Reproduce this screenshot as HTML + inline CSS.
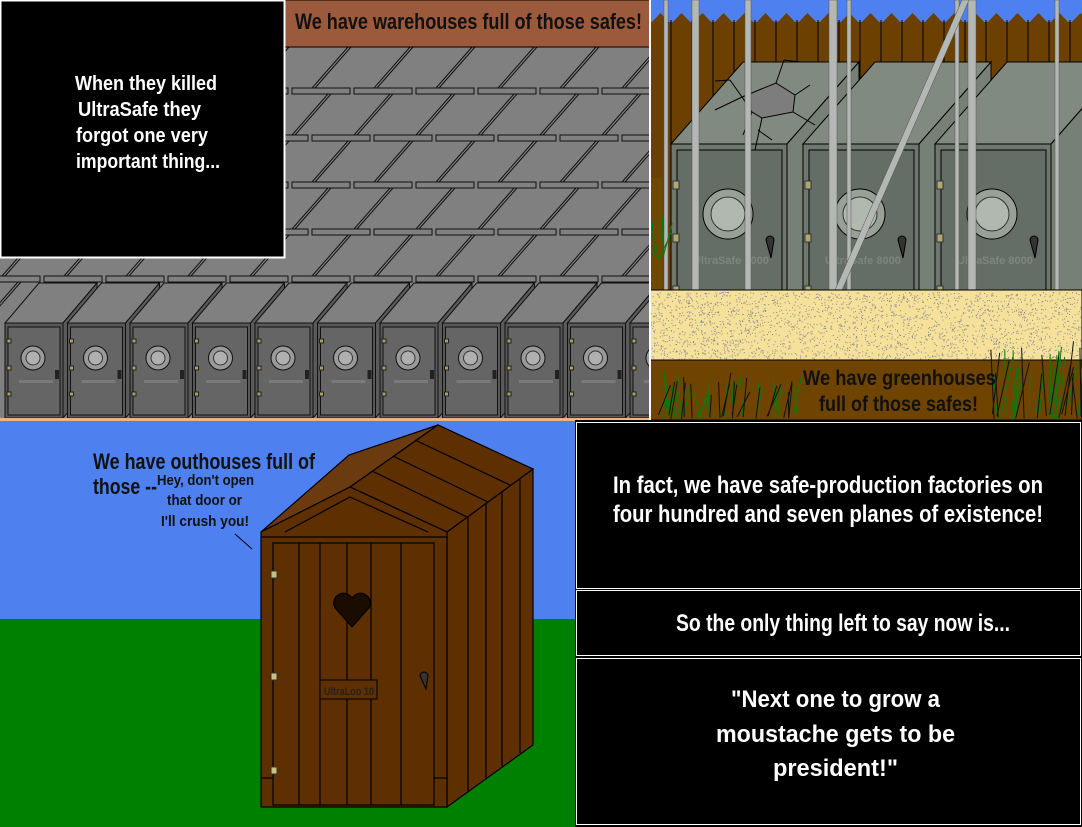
<!DOCTYPE html>
<html><head><meta charset="utf-8"><style>
html,body{margin:0;padding:0;background:#000;}
svg{display:block;}
text{font-family:"Liberation Sans Narrow","Liberation Sans",sans-serif;font-weight:bold;}
</style></head><body>
<svg id="s" width="1082" height="827" viewBox="0 0 1082 827" xmlns="http://www.w3.org/2000/svg">
<defs>
<clipPath id="c1"><rect x="0" y="0" width="650" height="420"/></clipPath>
<clipPath id="c2"><rect x="650" y="0" width="432" height="420"/></clipPath>
<clipPath id="c3"><rect x="0" y="421" width="575" height="406"/></clipPath>
</defs>
<rect width="1082" height="827" fill="#000"/>
<!-- PANEL 1 -->
<g clip-path="url(#c1)">
<rect x="0" y="0" width="650" height="420" fill="#808080"/>
<g id="p1rows"></g>
<g id="p1safes"></g>
<rect x="285" y="0" width="365" height="47" fill="#9c5a3c" stroke="#000" stroke-width="1"/>
<text x="295" y="29" font-size="22" fill="#111" textLength="347" lengthAdjust="spacingAndGlyphs">We have warehouses full of those safes!</text>
<rect x="0.5" y="0.5" width="284" height="257" fill="#000" stroke="#fff" stroke-width="2"/>
<g fill="#fff" font-size="20">
<text x="75" y="90" textLength="142" lengthAdjust="spacingAndGlyphs">When they killed</text>
<text x="78" y="116" textLength="123" lengthAdjust="spacingAndGlyphs">UltraSafe they</text>
<text x="76" y="142" textLength="132" lengthAdjust="spacingAndGlyphs">forgot one very</text>
<text x="76" y="168" textLength="144" lengthAdjust="spacingAndGlyphs">important thing...</text>
</g>
<rect x="0" y="418" width="650" height="2" fill="#f0b080"/>
</g>
<!-- PANEL 2 -->
<g clip-path="url(#c2)">
<rect x="650" y="0" width="432" height="420" fill="#4f80f0"/>
<g id="fence"></g>
<rect x="650" y="178" width="12" height="112" fill="#6e4a00"/>
<g id="p2safes"></g>
<g id="poles"></g>
<rect x="650" y="290" width="432" height="70" fill="#f5e19a" stroke="#000"/>
<g id="speck"></g>
<rect x="650" y="360" width="432" height="60" fill="#6e4400" stroke="#000"/>
<g id="grass" stroke-width="1" fill="none"></g>
<g fill="#111" font-size="21">
<text x="803" y="385" textLength="193" lengthAdjust="spacingAndGlyphs">We have greenhouses</text>
<text x="819" y="411" textLength="159" lengthAdjust="spacingAndGlyphs">full of those safes!</text>
</g>
</g>
<rect x="649" y="0" width="2" height="420" fill="#fff"/>
<!-- PANEL 3 -->
<g clip-path="url(#c3)">
<rect x="0" y="421" width="575" height="198" fill="#4f80f0"/>
<rect x="0" y="619" width="575" height="208" fill="#008000"/>
<g stroke="#000" stroke-width="1.2">
<polygon points="447,532 533,469 533,745 447,807" fill="#5e2f00"/>
<line x1="468" y1="517" x2="468" y2="791"/>
<line x1="486" y1="504" x2="486" y2="778"/>
<line x1="502" y1="492" x2="502" y2="766"/>
<line x1="520" y1="479" x2="520" y2="753"/>
<polygon points="261,532 350,487 438,425 349,455" fill="#6b3a0e"/>
<polygon points="350,487 438,425 533,469 447,532" fill="#5e2f00"/>
<line x1="372" y1="471" x2="467" y2="517"/>
<line x1="393" y1="456" x2="488" y2="502"/>
<line x1="415" y1="440" x2="510" y2="485"/>
<polygon points="261,532 350,487 447,532 447,807 261,807" fill="#5e2f00"/>
<polyline points="285,532 350,497 428,532" fill="none"/>
<line x1="261" y1="537" x2="447" y2="537"/>
<rect x="273" y="543" width="161" height="262" fill="#5e2f00"/>
<line x1="299" y1="543" x2="299" y2="805"/>
<line x1="320" y1="543" x2="320" y2="805"/>
<line x1="347" y1="543" x2="347" y2="805"/>
<line x1="371" y1="543" x2="371" y2="805"/>
<line x1="401" y1="543" x2="401" y2="805"/>
<line x1="261" y1="778" x2="273" y2="778"/>
<line x1="434" y1="778" x2="447" y2="778"/>
</g>
<path d="M352,627 L335,608 A9,9 0 0 1 352,598 A9,9 0 0 1 369,608 Z" fill="#1a0c00" stroke="#000"/>
<rect x="320" y="680" width="57" height="19" fill="#5e2f00" stroke="#000"/>
<text x="324" y="695" font-size="11" fill="#222" textLength="50" lengthAdjust="spacingAndGlyphs">UltraLoo 10</text>
<path d="M420,676 a4,4 0 0 1 8,0 l-2,13 z" fill="#333" stroke="#000"/>
<g fill="#c8c080" stroke="#333"><rect x="271" y="571" width="6" height="7"/><rect x="271" y="673" width="6" height="7"/><rect x="271" y="767" width="6" height="7"/></g>
<g fill="#111" font-size="22">
<text x="93" y="469" textLength="222" lengthAdjust="spacingAndGlyphs">We have outhouses full of</text>
<text x="93" y="494" textLength="64" lengthAdjust="spacingAndGlyphs">those --</text>
</g>
<g fill="#111" font-size="15">
<text x="157" y="485" textLength="97" lengthAdjust="spacingAndGlyphs">Hey, don't open</text>
<text x="167" y="505" textLength="75" lengthAdjust="spacingAndGlyphs">that door or</text>
<text x="161" y="526" textLength="88" lengthAdjust="spacingAndGlyphs">I'll crush you!</text>
</g>
<line x1="235" y1="534" x2="252" y2="549" stroke="#000"/>
</g>
<rect x="0" y="420" width="575" height="1" fill="#f0b080"/>
<!-- PANEL 4 -->
<g fill="#000" stroke="#fff" stroke-width="1">
<rect x="576.5" y="422.5" width="504" height="166"/>
<rect x="576.5" y="590.5" width="504" height="65"/>
<rect x="576.5" y="658.5" width="504" height="166"/>
</g>
<g fill="#fff" font-size="24">
<text x="613" y="493" textLength="430" lengthAdjust="spacingAndGlyphs">In fact, we have safe-production factories on</text>
<text x="613" y="522" textLength="430" lengthAdjust="spacingAndGlyphs">four hundred and seven planes of existence!</text>
<text x="676" y="631" textLength="334" lengthAdjust="spacingAndGlyphs">So the only thing left to say now is...</text>
<text x="731" y="707" textLength="209" lengthAdjust="spacingAndGlyphs">"Next one to grow a</text>
<text x="716" y="742" textLength="239" lengthAdjust="spacingAndGlyphs">moustache gets to be</text>
<text x="773" y="776" textLength="125" lengthAdjust="spacingAndGlyphs">president!"</text>
</g>
</svg>
<script>
var NS="http://www.w3.org/2000/svg";
function el(p,t,a){var e=document.createElementNS(NS,t);for(var k in a)e.setAttribute(k,a[k]);document.getElementById(p).appendChild(e);return e;}
var rows=[47,94,141,188,235,282];
rows.forEach(function(yb,r){
  var off=(r%2)*-20;
  for(var x=-60+off;x<700;x+=62){
    el("p1rows","rect",{x:x,y:yb-6,width:58,height:6,fill:"#808080",stroke:"#111","stroke-width":1});
    el("p1rows","line",{x1:x,y1:yb+41,x2:x+36,y2:yb,stroke:"#111","stroke-width":1});
    el("p1rows","line",{x1:x+3,y1:yb+41,x2:x+39,y2:yb,stroke:"#111","stroke-width":1});
  }
});
for(var i=0;i<11;i++){
  var x=5+62.5*i;
  el("p1safes","polygon",{points:(x)+",323 "+(x+58)+",323 "+(x+92)+",283 "+(x+34)+",283",fill:"#808080",stroke:"#111"});
  el("p1safes","polygon",{points:(x+58)+",323 "+(x+92)+",283 "+(x+92)+",380 "+(x+58)+",418",fill:"#5a5a5a",stroke:"#111"});
  el("p1safes","rect",{x:x,y:323,width:58,height:95,fill:"#585858",stroke:"#111"});
  el("p1safes","rect",{x:x+3,y:327,width:52,height:88,fill:"#656565",stroke:"#111"});
  el("p1safes","circle",{cx:x+28,cy:358,r:12,fill:"#9a9a9a",stroke:"#111"});
  el("p1safes","circle",{cx:x+28,cy:358,r:7,fill:"#b0b0b0",stroke:"#333"});
  el("p1safes","rect",{x:x+50,y:370,width:4,height:9,fill:"#222"});
  [341,368,394].forEach(function(y){el("p1safes","rect",{x:x+2,y:y-2,width:4,height:4,fill:"#aaa060",stroke:"#222"});});
  el("p1safes","rect",{x:x+14,y:380,width:34,height:3,fill:"#7a7a7a"});
}
el("fence","rect",{x:650,y:22,width:432,height:270,fill:"#6b4000"});
for(var x=650;x<1082;x+=21){
  el("fence","polygon",{points:x+",24 "+(x+10.5)+",13 "+(x+21)+",24",fill:"#6b4000"});
  el("fence","line",{x1:x,y1:20,x2:x,y2:290,stroke:"#000","stroke-width":1});
}
[671,803,935].forEach(function(x,i){
  el("p2safes","polygon",{points:x+",144 "+(x+116)+",144 "+(x+188)+",62 "+(x+72)+",62",fill:"#808a80",stroke:"#000"});
  el("p2safes","polygon",{points:(x+116)+",144 "+(x+188)+",62 "+(x+188)+",290 "+(x+116)+",290",fill:"#768076",stroke:"#000"});
  el("p2safes","rect",{x:x,y:144,width:116,height:146,fill:"#6e786f",stroke:"#000"});
  el("p2safes","rect",{x:x+6,y:150,width:105,height:140,fill:"#646e66",stroke:"#000"});
  el("p2safes","circle",{cx:x+57,cy:214,r:25,fill:"#98a098",stroke:"#000"});
  el("p2safes","circle",{cx:x+57,cy:214,r:17,fill:"#b0b8b0",stroke:"#333"});
  el("p2safes","path",{d:"M"+(x+95)+",240 a4,4 0 0 1 8,0 l-3,18 z",fill:"#333",stroke:"#000"});
  [185,238,290].forEach(function(y){el("p2safes","rect",{x:x+2,y:y-4,width:6,height:8,fill:"#b0a870",stroke:"#333"});});
  var t=el("p2safes","text",{x:x+22,y:264,"font-size":"11",fill:"#7c867e"});t.textContent="UltraSafe 8000";
});
el("p2safes","polygon",{points:"742,97 776,83 795,95 793,112 762,118 752,112",fill:"#7d7d7d",stroke:"#000"});
el("p2safes","path",{d:"M742,97 L730,80 M730,80 L715,81 M742,97 L715,110 M776,83 L784,60 M784,60 L800,62 M795,95 L810,85 M793,112 L815,125 M762,118 L755,150 M752,112 L743,135 M758,130 L772,140",stroke:"#000",fill:"none"});
[[664,4],[692,7],[745,6],[829,8],[847,4],[955,4],[968,8],[1055,4]].forEach(function(p){
  el("poles","rect",{x:p[0],y:0,width:p[1],height:290,fill:"#b4b8b4",stroke:"#555","stroke-width":0.5});
});
el("poles","polygon",{points:"962,0 969,0 842,290 835,290",fill:"#b4b8b4",stroke:"#555","stroke-width":0.5});
var seed=7;function rnd(){seed=(seed*9301+49297)%233280;return seed/233280;}
var d="";for(var k=0;k<2500;k++){var sx=651+rnd()*430,sy=292+rnd()*67;d+="M"+sx.toFixed(1)+","+sy.toFixed(1)+"h1v1h-1z";}
el("speck","path",{d:d,fill:"#8a8a90"});
function grass(x0,x1,y0,y1,n,col){var gd="";for(var k=0;k<n;k++){var gx=x0+rnd()*(x1-x0),gy=y1-rnd()*6;gd+="M"+gx.toFixed(1)+","+gy.toFixed(1)+"l"+((rnd()-0.3)*20).toFixed(1)+","+(-(y1-y0)*(0.5+rnd()*0.5)).toFixed(1);}el("grass","path",{d:gd,stroke:col});}
grass(655,800,375,420,25,"#0a7a10");grass(655,800,375,420,20,"#111");
grass(990,1082,345,420,20,"#0a7a10");grass(990,1082,345,420,15,"#111");
grass(650,665,215,260,6,"#0a7a10");
</script>
</body></html>
